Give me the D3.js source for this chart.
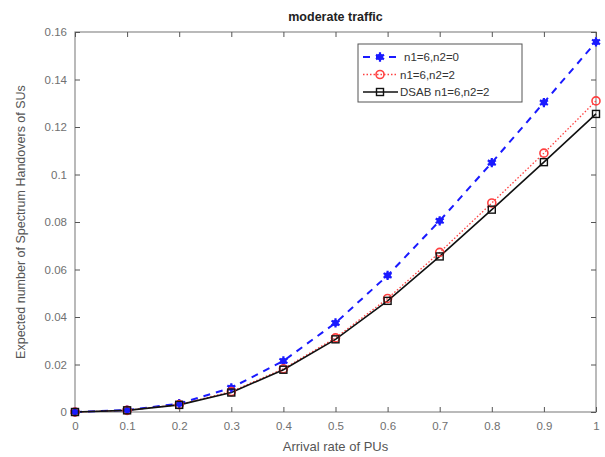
<!DOCTYPE html>
<html><head><meta charset="utf-8">
<script src="https://cdn.jsdelivr.net/npm/d3@7/dist/d3.min.js"></script>
<style>body{margin:0;background:#fff;} text{font-family:Arial,"Liberation Sans",sans-serif;}</style>
</head><body>
<svg id="c" width="605" height="457"></svg>
<script>
const xVals = [0,0.1,0.2,0.3,0.4,0.5,0.6,0.7,0.8,0.9,1];
const seriesNames = ["n1=6,n2=0","n1=6,n2=2","DSAB n1=6,n2=2"];
const blueVals = [0,0.0008,0.0035,0.0102,0.0215,0.0375,0.0575,0.0805,0.105,0.1303,0.1558];
const redVals  = [0,0.0007,0.0031,0.0086,0.0182,0.0312,0.0478,0.0672,0.0880,0.1090,0.1310];
const blackVals= [0,0.0007,0.0030,0.0082,0.0178,0.0306,0.0468,0.0655,0.0852,0.1052,0.1255];
const xTicks = [0,0.1,0.2,0.3,0.4,0.5,0.6,0.7,0.8,0.9,1];
const yTicks = [0,0.02,0.04,0.06,0.08,0.1,0.12,0.14,0.16];

const svg = d3.select("#c");
const L=75,R=596,T=32,B=412;
const x = d3.scaleLinear().domain([0,1]).range([L,R]);
const y = d3.scaleLinear().domain([0,0.16]).range([B,T]);
const axisColor="#8c8c8c";
const fmt = d => d===0?"0":String(d);

// box
svg.append("rect").attr("x",L).attr("y",T).attr("width",R-L).attr("height",B-T)
  .attr("fill","none").attr("stroke",axisColor).attr("stroke-width",1.2);

const gx = svg.append("g").attr("transform",`translate(0,${B})`)
  .call(d3.axisBottom(x).tickValues(xTicks).tickFormat(fmt).tickSizeInner(-5).tickSizeOuter(0).tickPadding(10));
const gxt = svg.append("g").attr("transform",`translate(0,${T})`)
  .call(d3.axisTop(x).tickValues(xTicks).tickFormat("").tickSizeInner(-5).tickSizeOuter(0));
const gy = svg.append("g").attr("transform",`translate(${L},0)`)
  .call(d3.axisLeft(y).tickValues(yTicks).tickFormat(fmt).tickSizeInner(-5).tickSizeOuter(0).tickPadding(8));
const gyr = svg.append("g").attr("transform",`translate(${R},0)`)
  .call(d3.axisRight(y).tickValues(yTicks).tickFormat("").tickSizeInner(-5).tickSizeOuter(0));
[gx,gxt,gy,gyr].forEach(g=>{
  g.select(".domain").remove();
  g.selectAll(".tick line").attr("stroke","#555");
  g.selectAll(".tick text").attr("fill","#707070").style("font-size","11.5px");
});

const line = d3.line().x((d,i)=>x(xVals[i])).y(d=>y(d));
const series = [
  {vals:blueVals,color:"#1a1aff",dash:"7,6",w:2,marker:"star"},
  {vals:redVals,color:"#ff4040",dash:"1.5,2",w:1.3,marker:"circle"},
  {vals:blackVals,color:"#111",dash:null,w:1.6,marker:"square"}
];
function drawMarker(g,type,cx,cy,color){
  if(type==="star"){
    g.append("path").attr("d",d3.symbol(d3.symbolAsterisk,60)()).attr("transform",`translate(${cx},${cy})`)
      .attr("fill","none").attr("stroke",color).attr("stroke-width",2.2);
    g.append("circle").attr("cx",cx).attr("cy",cy).attr("r",3.2).attr("fill",color);
  } else if(type==="circle"){
    g.append("circle").attr("cx",cx).attr("cy",cy).attr("r",4).attr("fill","none").attr("stroke",color).attr("stroke-width",1.6);
  } else {
    g.append("rect").attr("x",cx-3.5).attr("y",cy-3.5).attr("width",7).attr("height",7).attr("fill","none").attr("stroke",color).attr("stroke-width",1.4);
  }
}
series.forEach(s=>{
  svg.append("path").datum(s.vals).attr("d",line).attr("fill","none")
    .attr("stroke",s.color).attr("stroke-width",s.w).attr("stroke-dasharray",s.dash);
});
series.forEach(s=>{
  const g=svg.append("g");
  s.vals.forEach((v,i)=>drawMarker(g,s.marker,x(xVals[i]),y(v),s.color));
});

// legend
const lg = svg.append("g");
lg.append("rect").attr("x",358).attr("y",44).attr("width",164).attr("height",58)
  .attr("fill","#fff").attr("stroke","#555").attr("stroke-width",1);
series.forEach((s,i)=>{
  const yy = 57 + i*17.5;
  lg.append("line").attr("x1",363).attr("x2",398).attr("y1",yy).attr("y2",yy)
    .attr("stroke",s.color).attr("stroke-width",s.w).attr("stroke-dasharray",s.dash);
  drawMarker(lg,s.marker,380,yy,s.color);
  lg.append("text").attr("x",i===0?404:400).attr("y",yy+4).text(seriesNames[i])
    .style("font-size","11.5px").attr("fill","#333");
});

svg.append("text").attr("x",(L+R)/2).attr("y",21).attr("text-anchor","middle")
  .style("font-size","12.5px").style("font-weight","bold").attr("fill","#222").text("moderate traffic");
svg.append("text").attr("x",(L+R)/2).attr("y",451).attr("text-anchor","middle")
  .style("font-size","13px").attr("fill","#555").text("Arrival rate of PUs");
svg.append("text").attr("transform",`translate(25,${(T+B)/2}) rotate(-90)`).attr("text-anchor","middle")
  .style("font-size","12.5px").attr("fill","#555").text("Expected number of Spectrum Handovers of SUs");
</script>
</body></html>
